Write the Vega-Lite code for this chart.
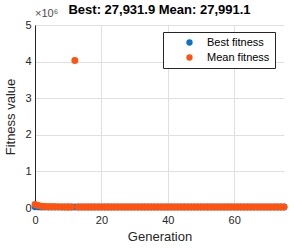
{
  "$schema": "https://vega.github.io/schema/vega-lite/v6.json",
  "width": 249,
  "height": 183,
  "autosize": {"type": "none"},
  "padding": {"left": 35, "top": 25, "right": 10, "bottom": 40},
  "title": {"text": "Best: 27,931.9 Mean: 27,991.1", "font": "Liberation Sans", "fontSize": 13, "fontWeight": "bold", "color": "#000000", "anchor": "middle", "frame": "group", "offset": -9},
  "config": {
    "view": {"stroke": null},
    "axis": {"labelFont": "Liberation Sans", "labelFontSize": 11, "labelColor": "#262626", "titleFont": "Liberation Sans", "titleFontSize": 13, "titleFontWeight": "normal", "titleColor": "#262626", "domainColor": "#262626", "domainWidth": 1, "gridColor": "#E0E0E0", "gridWidth": 1, "ticks": false, "labelOverlap": false, "labelFlush": false}
  },
  "data": {"values": [
    {"g":0,"best":30800,"mean":95000},{"g":1,"best":30100,"mean":66000},{"g":2,"best":29600,"mean":50000},{"g":3,"best":29200,"mean":41000},
    {"g":4,"best":28900,"mean":36000},{"g":5,"best":28700,"mean":33500},{"g":6,"best":28500,"mean":31800},{"g":7,"best":28400,"mean":30800},
    {"g":8,"best":28300,"mean":30100},{"g":9,"best":28250,"mean":29600},{"g":10,"best":28200,"mean":29300},{"g":11,"best":28150,"mean":29100},
    {"g":12,"best":28100,"mean":4030000},{"g":13,"best":28080,"mean":28900},{"g":14,"best":28050,"mean":28800},{"g":15,"best":28020,"mean":28700},
    {"g":16,"best":28000,"mean":28650},{"g":17,"best":27990,"mean":28600},{"g":18,"best":27980,"mean":28560},{"g":19,"best":27970,"mean":28520},
    {"g":20,"best":27960,"mean":28480},{"g":21,"best":27955,"mean":28440},{"g":22,"best":27950,"mean":28410},{"g":23,"best":27948,"mean":28380},
    {"g":24,"best":27945,"mean":28350},{"g":25,"best":27943,"mean":28320},{"g":26,"best":27941,"mean":28300},{"g":27,"best":27940,"mean":28280},
    {"g":28,"best":27938,"mean":28260},{"g":29,"best":27936,"mean":28240},{"g":30,"best":27934,"mean":28220},{"g":31,"best":27932,"mean":28200},
    {"g":32,"best":27931.9,"mean":28180},{"g":33,"best":27931.9,"mean":28165},{"g":34,"best":27931.9,"mean":28150},{"g":35,"best":27931.9,"mean":28140},
    {"g":36,"best":27931.9,"mean":28130},{"g":37,"best":27931.9,"mean":28120},{"g":38,"best":27931.9,"mean":28110},{"g":39,"best":27931.9,"mean":28100},
    {"g":40,"best":27931.9,"mean":28095},{"g":41,"best":27931.9,"mean":28090},{"g":42,"best":27931.9,"mean":28085},{"g":43,"best":27931.9,"mean":28080},
    {"g":44,"best":27931.9,"mean":28075},{"g":45,"best":27931.9,"mean":28070},{"g":46,"best":27931.9,"mean":28065},{"g":47,"best":27931.9,"mean":28060},
    {"g":48,"best":27931.9,"mean":28055},{"g":49,"best":27931.9,"mean":28050},{"g":50,"best":27931.9,"mean":28047},{"g":51,"best":27931.9,"mean":28044},
    {"g":52,"best":27931.9,"mean":28041},{"g":53,"best":27931.9,"mean":28038},{"g":54,"best":27931.9,"mean":28035},{"g":55,"best":27931.9,"mean":28032},
    {"g":56,"best":27931.9,"mean":28030},{"g":57,"best":27931.9,"mean":28028},{"g":58,"best":27931.9,"mean":28026},{"g":59,"best":27931.9,"mean":28024},
    {"g":60,"best":27931.9,"mean":28022},{"g":61,"best":27931.9,"mean":28020},{"g":62,"best":27931.9,"mean":28018},{"g":63,"best":27931.9,"mean":28016},
    {"g":64,"best":27931.9,"mean":28014},{"g":65,"best":27931.9,"mean":28012},{"g":66,"best":27931.9,"mean":28010},{"g":67,"best":27931.9,"mean":28008},
    {"g":68,"best":27931.9,"mean":28006},{"g":69,"best":27931.9,"mean":28004},{"g":70,"best":27931.9,"mean":28002},{"g":71,"best":27931.9,"mean":28000},
    {"g":72,"best":27931.9,"mean":27998},{"g":73,"best":27931.9,"mean":27996},{"g":74,"best":27931.9,"mean":27993},{"g":75,"best":27931.9,"mean":27991.1}
  ]},
  "layer": [
    {
      "mark": {"type": "point", "filled": true, "size": 48, "opacity": 1},
      "encoding": {
        "x": {"field": "g", "type": "quantitative", "scale": {"domain": [0, 75], "nice": false, "zero": false}, "axis": {"title": "Generation", "values": [0, 20, 40, 60], "grid": true, "labelPadding": 6, "titlePadding": 5}},
        "y": {"field": "best", "type": "quantitative", "scale": {"domain": [0, 5000000], "nice": false}, "axis": {"title": "Fitness value", "values": [0, 1000000, 2000000, 3000000, 4000000, 5000000], "labelExpr": "format(datum.value / 1000000, 'd')", "grid": true, "labelPadding": 4, "titlePadding": 7}},
        "color": {"datum": "Best fitness", "type": "nominal", "scale": {"domain": ["Best fitness", "Mean fitness"], "range": ["#0A72C8", "#FF5410"]},
          "legend": {"title": null, "orient": "none", "legendX": 128, "legendY": 7, "direction": "vertical", "strokeColor": "#262626", "fillColor": "#FFFFFF", "padding": 5, "symbolType": "circle", "symbolSize": 40, "symbolStrokeWidth": 0, "symbolOffset": 16, "labelOffset": 12, "labelFont": "Liberation Sans", "labelFontSize": 11, "labelColor": "#000000", "rowPadding": 3}}
      }
    },
    {
      "mark": {"type": "point", "filled": true, "size": 48, "opacity": 1},
      "encoding": {
        "x": {"field": "g", "type": "quantitative", "axis": {"title": "Generation", "values": [0, 20, 40, 60], "grid": true, "labelPadding": 6, "titlePadding": 5}},
        "y": {"field": "mean", "type": "quantitative", "axis": {"title": "Fitness value", "values": [0, 1000000, 2000000, 3000000, 4000000, 5000000], "labelExpr": "format(datum.value / 1000000, 'd')", "grid": true, "labelPadding": 4, "titlePadding": 7}},
        "color": {"datum": "Mean fitness", "type": "nominal"}
      }
    },
    {
      "data": {"values": [{"label": "×10⁶"}]},
      "mark": {"type": "text", "align": "left", "baseline": "alphabetic", "dy": -8, "font": "Liberation Sans", "fontSize": 11, "color": "#4D4D4D"},
      "encoding": {
        "x": {"datum": 0, "type": "quantitative", "axis": {"title": "Generation", "values": [0, 20, 40, 60], "grid": true, "labelPadding": 6, "titlePadding": 5}},
        "y": {"datum": 5000000, "type": "quantitative", "axis": {"title": "Fitness value", "values": [0, 1000000, 2000000, 3000000, 4000000, 5000000], "labelExpr": "format(datum.value / 1000000, 'd')", "grid": true, "labelPadding": 4, "titlePadding": 7}},
        "text": {"field": "label", "type": "nominal"}
      }
    }
  ]
}
